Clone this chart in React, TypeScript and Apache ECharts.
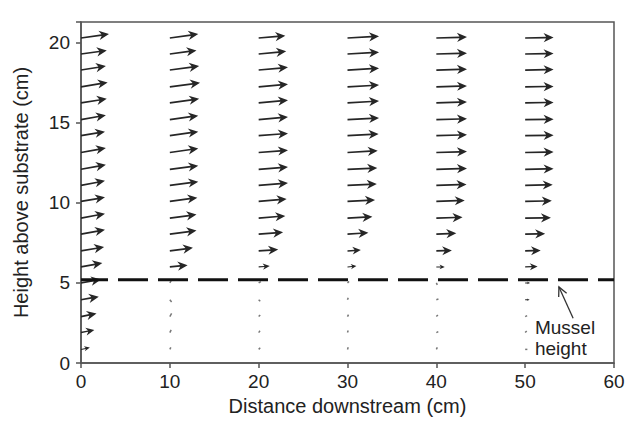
import React, { useEffect, useRef } from "react";
import * as echarts from "echarts";

// Measurement stations (cm downstream) and heights of the velocity vectors (cm)
const stations = [0, 10, 20, 30, 40, 50];
const heights = [0.85, 1.9, 2.9, 3.95, 5.0, 6.0, 7.0, 8.05, 9.05, 10.1, 11.1, 12.1, 13.15, 14.2, 15.2, 16.25, 17.25, 18.3, 19.3, 20.3];

// Horizontal (u) and vertical (v) vector components, bottom row first (in x-axis units)
const uAt0 = [1.0, 1.5, 1.75, 2.0, 2.25, 2.4, 2.6, 2.7, 2.7, 2.7, 2.7, 2.8, 2.8, 2.7, 2.8, 2.9, 3.0, 2.8, 2.9, 3.15];
const vAt0 = [0.2, 0.3, 0.35, 0.35, 0.4, 0.45, 0.45, 0.5, 0.5, 0.45, 0.5, 0.5, 0.5, 0.45, 0.5, 0.45, 0.5, 0.45, 0.4, 0.45];
const uAt10 = [0.05, 0.15, 0.2, 0.2, 0.15, 2.0, 2.6, 3.0, 3.0, 3.1, 3.2, 3.2, 3.2, 3.2, 3.2, 3.3, 3.4, 3.3, 3.0, 3.2];
const vAt10 = [0.1, 0.3, 0.35, -0.25, 0.25, 0.2, 0.35, 0.4, 0.4, 0.4, 0.4, 0.4, 0.45, 0.45, 0.45, 0.45, 0.45, 0.45, 0.4, 0.45];
const uAt20 = [0.05, 0.15, 0.05, 0.15, 0.25, 1.25, 2.2, 2.75, 3.0, 3.15, 3.3, 3.3, 3.3, 3.3, 3.3, 3.3, 3.3, 3.3, 3.1, 3.0];
const vAt20 = [0.05, 0.2, 0.05, -0.15, 0.15, 0.1, 0.15, 0.2, 0.25, 0.25, 0.25, 0.25, 0.25, 0.25, 0.3, 0.3, 0.3, 0.3, 0.3, 0.25];
const uAt30 = [0.05, 0.05, 0.05, 0.05, 0.1, 1.0, 1.5, 2.35, 2.8, 3.1, 3.3, 3.35, 3.4, 3.5, 3.55, 3.55, 3.55, 3.55, 3.55, 3.55];
const vAt30 = [0.15, 0.15, 0.1, 0.15, 0.1, 0.1, 0.1, 0.15, 0.15, 0.15, 0.15, 0.15, 0.2, 0.2, 0.2, 0.2, 0.2, 0.2, 0.2, 0.2];
const uAt40 = [0.05, 0.1, 0.1, 0.15, 0.1, 0.95, 1.75, 2.25, 2.95, 3.2, 3.4, 3.45, 3.45, 3.45, 3.45, 3.45, 3.45, 3.45, 3.45, 3.45];
const vAt40 = [0.1, 0.05, 0.1, 0.05, -0.2, 0.0, 0.05, 0.1, 0.1, 0.1, 0.1, 0.1, 0.1, 0.1, 0.1, 0.1, 0.1, 0.1, 0.1, 0.1];
const uAt50 = [0.05, 0.05, 0.1, 0.5, 0.55, 1.4, 1.75, 2.25, 2.9, 3.0, 3.1, 3.2, 3.2, 3.2, 3.2, 3.2, 3.2, 3.2, 3.2, 3.2];
const vAt50 = [0.0, 0.05, 0.05, 0.0, 0.0, 0.05, 0.05, 0.05, 0.05, 0.05, 0.05, 0.05, 0.05, 0.05, 0.05, 0.05, 0.05, 0.05, 0.05, 0.05];

const uByStation = [uAt0, uAt10, uAt20, uAt30, uAt40, uAt50];
const vByStation = [vAt0, vAt10, vAt20, vAt30, vAt40, vAt50];

// Mussel height reference line
const musselHeight = 5.2;
const xRange = [0, 60];

// Annotation: arrow [tailX, tailY, tipX, tipY] and text lines
const annotationArrow = [55.4, 2.8, 53.8, 4.75];
const annotationText = ["Mussel", "height"];
const annotationTextX = 51.1;
const annotationTextY = [2.23, 0.92];

const xTicks = [0, 10, 20, 30, 40, 50, 60];
const yTicks = [0, 5, 10, 15, 20];

const FONT = "'Liberation Sans', Arial, Helvetica, sans-serif";

function buildVectors() {
  const out: number[][] = [];
  stations.forEach((s, i) => {
    heights.forEach((h, j) => {
      out.push([s, h, uByStation[i][j], vByStation[i][j]]);
    });
  });
  return out;
}

export default function App() {
  const ref = useRef<HTMLDivElement>(null);
  useEffect(() => {
    if (!ref.current) return;
    const chart = echarts.init(ref.current, null, { renderer: "svg" });

    const renderArrow = (params: any, api: any) => {
      const x = api.value(0);
      const y = api.value(1);
      const u = api.value(2);
      const v = api.value(3);
      const p = api.coord([x, y]);
      const unit = api.size([1, 0])[0];
      const dx = u * unit;
      const dy = -v * unit;
      const L = Math.hypot(dx, dy);
      const ang = Math.atan2(dy, dx);
      const c = Math.cos(ang);
      const sn = Math.sin(ang);
      const small = L < 4;
      let local: number[][];
      if (small) {
        const hw = 0.75;
        const len = Math.max(L, 2.2);
        local = [
          [0, -hw],
          [len, -hw],
          [len, hw],
          [0, hw],
        ];
      } else {
        const s = Math.min(1, L / 16);
        const hl = 10 * s;
        const hal = 7.5 * s;
        const hw = 4.6 * s;
        const w = 0.85 * Math.max(s, 0.6);
        local = [
          [0, -w],
          [L - hal, -w],
          [L - hl, -hw],
          [L, 0],
          [L - hl, hw],
          [L - hal, w],
          [0, w],
        ];
      }
      const pts = local.map(([lx, ly]) => [p[0] + lx * c - ly * sn, p[1] + lx * sn + ly * c]);
      return {
        type: "polygon",
        shape: { points: pts },
        style: { fill: small ? "#777" : "#262626" },
      };
    };

    const renderAnnotation = (params: any, api: any) => {
      const tail = api.coord([api.value(0), api.value(1)]);
      const tip = api.coord([api.value(2), api.value(3)]);
      const ang = Math.atan2(tail[1] - tip[1], tail[0] - tip[0]);
      const hlen = 10;
      const spread = 0.45;
      const p1 = [tip[0] + hlen * Math.cos(ang + spread), tip[1] + hlen * Math.sin(ang + spread)];
      const p2 = [tip[0] + hlen * Math.cos(ang - spread), tip[1] + hlen * Math.sin(ang - spread)];
      const children: any[] = [
        { type: "line", shape: { x1: tail[0], y1: tail[1], x2: tip[0], y2: tip[1] }, style: { stroke: "#333", lineWidth: 1.3 } },
        { type: "polyline", shape: { points: [p1, tip, p2] }, style: { stroke: "#333", lineWidth: 1.3, fill: null } },
      ];
      annotationText.forEach((t, i) => {
        const tp = api.coord([annotationTextX, annotationTextY[i]]);
        children.push({
          type: "text",
          x: tp[0],
          y: tp[1],
          style: { text: t, fill: "#222", fontSize: 19, fontFamily: FONT, align: "left", verticalAlign: "middle" },
        });
      });
      return { type: "group", children };
    };

    chart.setOption({
      animation: false,
      backgroundColor: "#ffffff",
      grid: {
        left: 81,
        right: 15,
        top: 22,
        bottom: 70,
        show: true,
        borderColor: "#555",
        borderWidth: 1.5,
        backgroundColor: "transparent",
      },
      xAxis: {
        type: "value",
        min: xTicks[0],
        max: xTicks[xTicks.length - 1],
        interval: 10,
        name: "Distance downstream (cm)",
        nameLocation: "middle",
        nameGap: 23,
        nameTextStyle: { fontSize: 20, color: "#222", fontFamily: FONT },
        axisLine: { show: true, onZero: false, lineStyle: { color: "#555", width: 1.5 } },
        axisTick: { show: true, length: 5, lineStyle: { color: "#555", width: 1.5 } },
        axisLabel: { fontSize: 19, color: "#222", fontFamily: FONT, margin: 9 },
        splitLine: { show: false },
      },
      yAxis: {
        type: "value",
        min: yTicks[0],
        max: 21.3,
        interval: 5,
        name: "Height above substrate (cm)",
        nameLocation: "middle",
        nameGap: 50,
        nameTextStyle: { fontSize: 20, color: "#222", fontFamily: FONT },
        axisLine: { show: true, onZero: false, lineStyle: { color: "#555", width: 1.5 } },
        axisTick: { show: true, length: 5, lineStyle: { color: "#555", width: 1.5 } },
        axisLabel: {
          fontSize: 19,
          color: "#222",
          fontFamily: FONT,
          margin: 11,
          formatter: (val: number) => (yTicks.includes(val) ? String(val) : ""),
        },
        splitLine: { show: false },
      },
      series: [
        {
          type: "custom",
          name: "velocity",
          renderItem: renderArrow,
          data: buildVectors(),
          clip: false,
          z: 2,
        },
        {
          type: "line",
          name: "mussel height",
          data: [
            [xRange[0], musselHeight],
            [xRange[1], musselHeight],
          ],
          symbol: "none",
          lineStyle: { color: "#111", width: 3, type: [30, 10], dashOffset: 3 },
          z: 3,
        },
        {
          type: "custom",
          name: "annotation",
          renderItem: renderAnnotation,
          data: [annotationArrow],
          clip: false,
          z: 4,
        },
      ],
    });
    return () => chart.dispose();
  }, []);

  return (
    <div
      ref={ref}
      style={{ position: "fixed", left: 0, top: 0, width: 629, height: 433, background: "#fff" }}
    />
  );
}
